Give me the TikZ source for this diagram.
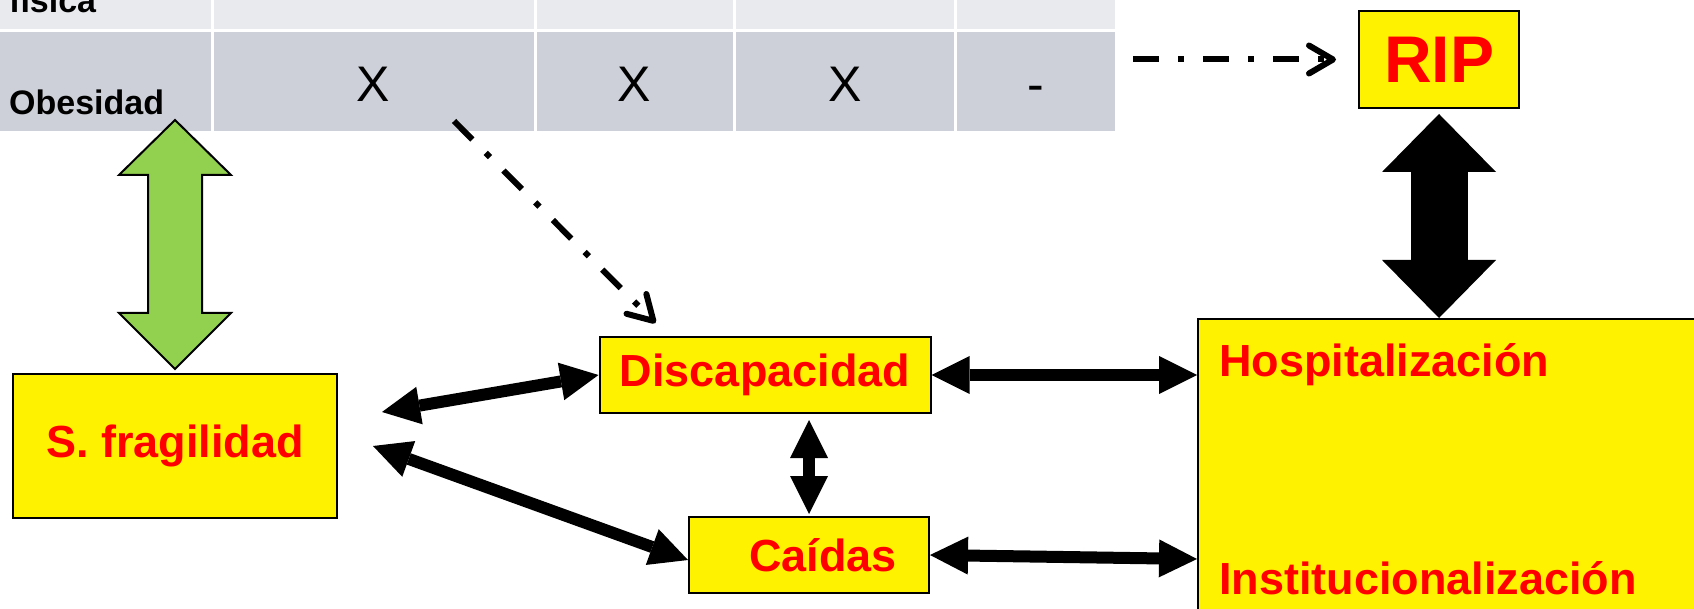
\documentclass[tikz,border=0pt]{standalone}
\usepackage{fontspec}
\setmainfont{Liberation Sans}
\usetikzlibrary{arrows.meta,positioning}
\definecolor{rowA}{RGB}{233,234,238}
\definecolor{rowB}{RGB}{205,208,216}
\definecolor{arrowgreen}{RGB}{146,208,80}
\tikzset{
  box/.style={
    draw, line width=2pt, fill=yellow, inner sep=0pt
  },
  lbl/.style={
    text=red, font=\fontsize{45}{54}\selectfont\bfseries
  },
  rowlbl/.style={
    inner sep=0pt, font=\fontsize{34}{40}\selectfont\bfseries
  },
  cellmark/.style={
    inner sep=0pt, font=\fontsize{50}{60}\selectfont
  },
  dbl/.style={
    line width=12pt,
    {Triangle[length=38pt,width=38pt,line width=0pt]}-{Triangle[length=38pt,width=38pt,line width=0pt]}
  },
  dasharrow/.style={
    line width=6pt, dash pattern=on 26pt off 19pt on 6pt off 19pt,
    -{Straight Barb[length=24pt,width=28pt,line cap=round,line join=round]}
  }
}

\begin{document}
\begin{tikzpicture}[x=1pt,y=-1pt]
  \useasboundingbox (0,0) rectangle (1694,609);
  \clip (0,0) rectangle (1694,609);

  % table rows
  \foreach \xa/\xb in {0/211, 214/534, 537/733, 736/954, 957/1115} {
    \fill[rowA] (\xa,-10) rectangle (\xb,29);
    \fill[rowB] (\xa,32) rectangle (\xb,131);
  }
  \node[rowlbl, anchor=base west] (fisica) at (9,13) {física};
  \node[rowlbl, anchor=base west] (obes) at (9,115) {Obesidad};
  \node[cellmark, anchor=base] (xa) at (373,102) {X};
  \node[cellmark, anchor=base] (xb) at (634,102) {X};
  \node[cellmark, anchor=base] (xc) at (845,102) {X};
  \node[cellmark, anchor=base] (xd) at (1036,102) {-};

  % boxes
  \node[box, minimum width=324pt, minimum height=144pt, lbl] (frag) at (175,446) {S. fragilidad};
  \node[box, minimum width=331pt, minimum height=76pt, lbl] (disc) at (765,375) {Discapacidad};
  \node[box, minimum width=240pt, minimum height=76pt, lbl] (caidas) at (809,555) {\hspace*{28pt}Caídas};
  \node[box, minimum width=160pt, minimum height=97pt, text=red,
        font=\fontsize{66}{78}\selectfont\bfseries] (rip) at (1439,59.5) {RIP};
  \node[box, minimum width=560pt, minimum height=320pt, anchor=north west] (outcome) at (1197,318) {};
  \node[lbl, inner sep=0pt, anchor=base west] (hosp) at ([shift={(22,58)}]outcome.north west) {Hospitalización};
  \node[lbl, inner sep=0pt, anchor=base west] (inst) at ([shift={(22,276)}]outcome.north west) {Institucionalización};

  % green block arrow
  \draw[fill=arrowgreen, line width=2pt, line join=miter]
    ([yshift=4pt]frag.north) -- ++(-56,-56) -- ++(29,0) -- ++(0,-138) -- ++(-29,0)
    -- ++(56,-55) -- ++(56,55) -- ++(-29,0) -- ++(0,138) -- ++(29,0) -- cycle;

  % black block arrow
  \draw[line width=57pt,
        {Triangle[length=58pt,width=114pt,line width=0pt]}-{Triangle[length=58pt,width=114pt,line width=0pt]}]
    ([yshift=-5pt]rip.south) -- (rip.south |- outcome.north);

  % dash-dot arrows
  \coordinate (rowend) at (1133,59.5);
  \coordinate (cellcut) at (454,121);
  \draw[dasharrow] (rowend) -- ([xshift=-22pt]rip.west);
  \draw[dasharrow] (cellcut) -- ([shift={(57,-13)}]disc.north west);

  % links
  \draw[dbl] ([shift={(44,-34)}]frag.east) -- (disc.west);
  \draw[dbl] ([xshift=35pt]frag.east) -- ([yshift=-5pt]caidas.west);
  \draw[dbl] ([yshift=-6pt]caidas.north |- disc.south) -- ([yshift=2pt]caidas.north);
  \draw[dbl] (disc.east) -- (disc.east -| outcome.west);
  \draw[dbl] (caidas.east) -- ([yshift=-4pt]caidas.east -| outcome.west);
\end{tikzpicture}
\end{document}
